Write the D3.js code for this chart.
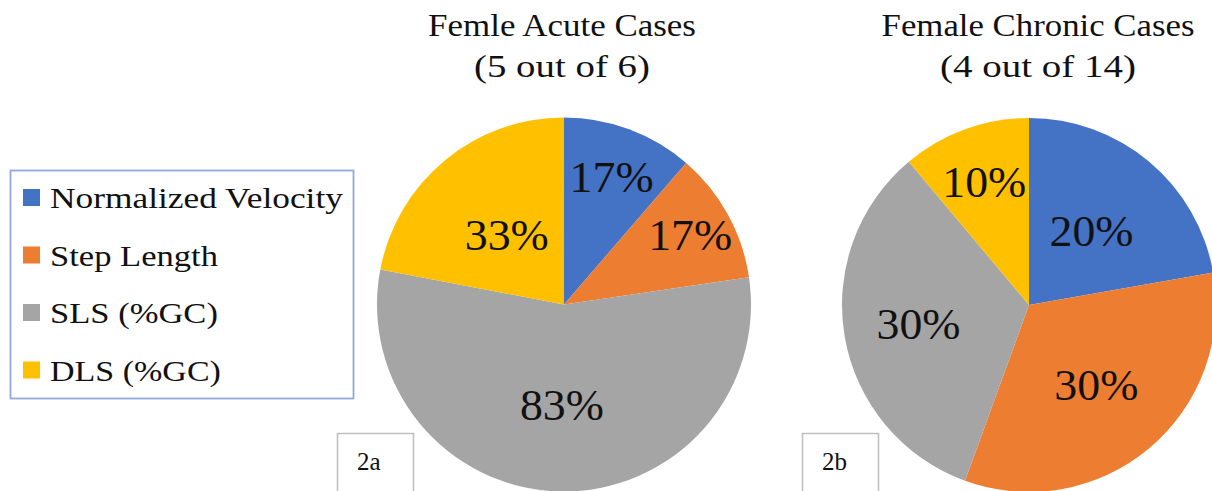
<!DOCTYPE html>
<html><head><meta charset="utf-8">
<script src="https://cdn.jsdelivr.net/npm/d3@7"></script>
<style>html,body{margin:0;padding:0;background:#fff;overflow:hidden}</style>
</head><body>
<script>
// ---- data ----
const categories = ["Normalized Velocity", "Step Length", "SLS (%GC)", "DLS (%GC)"];
const acuteValues = [17, 17, 83, 33];
const chronicValues = [20, 30, 30, 10];
const titlesAcute = ["Femle Acute Cases", "(5 out of 6)"];
const titlesChronic = ["Female Chronic Cases", "(4 out of 14)"];
const panelTags = ["2a", "2b"];

// ---- styles / layout ----
const colors = ["#4472C4", "#ED7D31", "#A5A5A5", "#FFC000"];
const FONT = '"Liberation Serif"';
const W = 1212, H = 491, R = 187;
const panels = [
  {values: acuteValues, titles: titlesAcute, cx: 564, cy: 304.5, tag: panelTags[0], tagX: 337, tx: 562,
   labelFrac: [0.73, 0.77, 0.54, 0.48], titleW: [268, 176]},
  {values: chronicValues, titles: titlesChronic, cx: 1029, cy: 305, tag: panelTags[1], tagX: 802, tx: 1038,
   labelFrac: [0.52, 0.56, 0.60, 0.70], titleW: [313, 196]}
];

const svg = d3.select("body").append("svg").attr("width", W).attr("height", H);

// place a text at (x,y) with anchor, horizontally scaled to width w
function stretchText(parent, str, x, y, size, w, anchor) {
  const g = parent.append("g").attr("transform", `translate(${x},${y})`);
  const t = g.append("text").style("font-family", FONT).attr("font-size", size)
    .attr("fill", "#111").attr("text-anchor", anchor || "start").text(str);
  if (w) {
    const nat = t.node().getComputedTextLength();
    if (nat > 0) t.attr("transform", `scale(${w / nat},1)`);
  }
  return t;
}

const color = d3.scaleOrdinal().domain(categories).range(colors);
const pie = d3.pie().sort(null).value(d => d.v);

panels.forEach(p => {
  const data = categories.map((c, i) => ({c, v: p.values[i], i}));
  const arcs = pie(data);
  const g = svg.append("g").attr("transform", `translate(${p.cx},${p.cy})`);
  const arc = d3.arc().innerRadius(0).outerRadius(R);
  g.selectAll("path").data(arcs).join("path")
    .attr("d", arc).attr("fill", d => color(d.data.c));
  arcs.forEach(d => {
    const a = (d.startAngle + d.endAngle) / 2;
    const r = R * p.labelFrac[d.data.i];
    stretchText(g, d.data.v + "%", Math.sin(a) * r, -Math.cos(a) * r + 15, 44, 84, "middle");
  });

  // titles
  stretchText(svg, p.titles[0], p.tx, 36, 32, p.titleW[0], "middle");
  stretchText(svg, p.titles[1], p.tx, 77, 32, p.titleW[1], "middle");

  // tag box
  svg.append("rect").attr("x", p.tagX + 0.5).attr("y", 433.5).attr("width", 76).attr("height", 70)
    .attr("fill", "#fff").attr("stroke", "#BFBFBF").attr("stroke-width", 1.5);
  stretchText(svg, p.tag, p.tagX + 20, 470, 25, null, "start");
});

// legend
const lg = svg.append("g");
lg.append("rect").attr("x", 10.5).attr("y", 170.5).attr("width", 343).attr("height", 228)
  .attr("fill", "#fff").attr("stroke", "#8FAADC").attr("stroke-width", 1.8);
const legendW = [293, 168, 168, 171];
categories.forEach((c, i) => {
  const y = 189 + i * 57.5;
  lg.append("rect").attr("x", 23).attr("y", y).attr("width", 17).attr("height", 17).attr("fill", color(c));
  stretchText(lg, c, 50, y + 19, 30, legendW[i], "start");
});
</script>
</body></html>
